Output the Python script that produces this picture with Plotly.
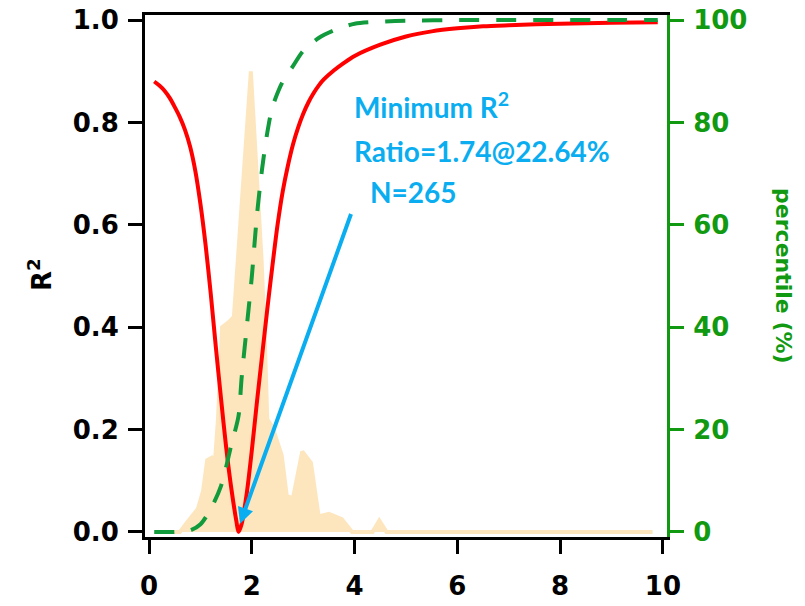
import plotly.graph_objects as go

# R^2 vs ratio (left axis)
ratio_x = [0.1, 0.2, 0.3, 0.4, 0.5, 0.6, 0.7, 0.8, 0.9, 1.0, 1.1, 1.2, 1.3, 1.4, 1.5,
           1.6, 1.7, 1.74, 1.8, 1.9, 2.0, 2.1, 2.2, 2.3, 2.4, 2.5, 2.6, 2.7, 2.8, 2.9,
           3.0, 3.1, 3.2, 3.3, 3.4, 3.6, 3.8, 4.0, 4.5, 5.0, 5.5, 6.0, 6.5, 7.0, 8.0,
           9.0, 9.9]
r2_y = [0.88, 0.872, 0.862, 0.848, 0.83, 0.81, 0.785, 0.752, 0.705, 0.64, 0.56, 0.465,
        0.36, 0.26, 0.165, 0.085, 0.02, 0.0, 0.015, 0.075, 0.16, 0.255, 0.345, 0.435,
        0.52, 0.6, 0.665, 0.715, 0.757, 0.79, 0.817, 0.839, 0.857, 0.872, 0.884, 0.902,
        0.917, 0.93, 0.952, 0.968, 0.978, 0.984, 0.988, 0.99, 0.993, 0.995, 0.996]

# cumulative percentile (right axis)
pct_x = [0.1, 0.5, 0.8, 1.0, 1.2, 1.4, 1.6, 1.74, 1.8, 1.9, 2.0, 2.1, 2.2, 2.3, 2.4,
         2.6, 2.8, 3.0, 3.3, 3.6, 4.0, 4.5, 5.0, 6.0, 7.0, 8.0, 9.0, 9.9]
pct_y = [0, 0, 0.3, 1.5, 4.5, 9, 17, 22.64, 30, 40, 50, 62, 71, 78, 83,
         88, 91, 94, 96.5, 98, 99.3, 99.7, 99.9, 100, 100, 100, 100, 100]

# distribution (filled area, left axis units)
dist_x = [0.1, 0.6, 0.75, 0.95, 1.05, 1.13, 1.22, 1.28, 1.34, 1.42, 1.55, 1.65, 1.98,
          2.09, 2.19, 2.25, 2.3, 2.4, 2.58, 2.68, 2.8, 2.98, 3.15, 3.3, 3.5, 3.75,
          3.95, 4.35, 4.48, 4.62, 9.8]
dist_y = [0.0, 0.0, 0.02, 0.045, 0.08, 0.14, 0.145, 0.135, 0.22, 0.40, 0.41, 0.42, 0.90,
          0.71, 0.53, 0.38, 0.22, 0.205, 0.15, 0.07, 0.066, 0.157, 0.135, 0.03, 0.035, 0.025,
          0.0, 0.0, 0.022, 0.0, 0.0]

x_ticks = [0, 2, 4, 6, 8, 10]
y_ticks = [0.0, 0.2, 0.4, 0.6, 0.8, 1.0]
y2_ticks = [0, 20, 40, 60, 80, 100]

min_ratio = 1.74
min_pct = 22.64
n_count = 265

BLUE = "#0AAEF0"
GREEN = "#129B3C"
AXGREEN = "#119A11"
FONT = "DejaVu Sans"

fig = go.Figure()
fig.add_trace(go.Scatter(x=dist_x, y=dist_y, mode="lines", fill="tozeroy",
                         fillcolor="#FDE6BE", line=dict(color="#FDE6BE", width=4),
                         showlegend=False, hoverinfo="skip"))
fig.add_trace(go.Scatter(x=pct_x, y=pct_y, yaxis="y2", mode="lines",
                         line=dict(color=GREEN, width=4, dash="20px,17px", shape="spline",
                                   smoothing=0.8),
                         showlegend=False))
fig.add_trace(go.Scatter(x=ratio_x, y=r2_y, mode="lines",
                         line=dict(color="#FF0000", width=4, shape="spline", smoothing=0.8),
                         showlegend=False))

tickfont = dict(family=FONT, size=26, color="black", weight="bold")

# the page body adds an 8px margin, so the figure is sized and offset to compensate
fig.update_layout(
    width=797, height=598,
    margin=dict(l=137, r=138, t=7, b=69),
    paper_bgcolor="white", plot_bgcolor="white",
    xaxis=dict(range=[-0.08, 10.08], tickvals=x_ticks, ticks="outside", ticklen=14,
               tickwidth=3, tickcolor="black", showline=True, linewidth=3, linecolor="black",
               mirror=True, showgrid=False, zeroline=False, tickfont=tickfont,
               ticklabelstandoff=10, automargin=False, ticklabeloverflow="allow"),
    yaxis=dict(range=[-0.01, 1.01], tickvals=y_ticks, tickformat=".1f", ticks="outside",
               ticklen=14, tickwidth=3, tickcolor="black", showline=True, linewidth=3,
               linecolor="black", showgrid=False, zeroline=False, tickfont=tickfont,
               ticklabelstandoff=4, automargin=False, ticklabeloverflow="allow"),
    yaxis2=dict(range=[-1, 101], tickvals=y2_ticks, overlaying="y", side="right",
                ticks="outside", ticklen=14, tickwidth=3, tickcolor=AXGREEN, showline=True,
                linewidth=3, linecolor=AXGREEN, showgrid=False, zeroline=False,
                tickfont=dict(family=FONT, size=26, color=AXGREEN, weight="bold"),
                ticklabelstandoff=4, automargin=False, ticklabeloverflow="allow"),
)

# axis titles
fig.add_annotation(x=-0.201, y=0.502, xref="paper", yref="paper", text="R<sup>2</sup>",
                   textangle=-90, showarrow=False, xanchor="center", yanchor="middle",
                   font=dict(family=FONT, size=26, color="black", weight="bold"))
fig.add_annotation(x=1.224, y=0.5, xref="paper", yref="paper", text="percentile (%)",
                   textangle=90, showarrow=False, xanchor="center", yanchor="middle",
                   font=dict(family=FONT, size=22, color=AXGREEN, weight="bold"))

afont = dict(family="Lato", size=28, color=BLUE, weight="bold")
fig.add_annotation(x=3.95, y=0.833, xref="x", yref="y", text="Minimum R<sup>2</sup>",
                   showarrow=False, xanchor="left", yanchor="middle", font=afont)
fig.add_annotation(x=3.95, y=0.744, xref="x", yref="y",
                   text=f"Ratio={min_ratio:.2f}@{min_pct:.2f}%",
                   showarrow=False, xanchor="left", yanchor="middle", font=afont)
fig.add_annotation(x=4.27, y=0.665, xref="x", yref="y", text=f"N={n_count}",
                   showarrow=False, xanchor="left", yanchor="middle", font=afont)
# arrow pointing to the minimum
fig.add_annotation(x=min_ratio + 0.03, y=0.016, xref="x", yref="y", ax=3.94, ay=0.624,
                   axref="x", ayref="y", text="", showarrow=True, arrowhead=2,
                   arrowsize=0.8, arrowwidth=4, arrowcolor=BLUE, standoff=0, startstandoff=0)

fig.write_html("out.html")
